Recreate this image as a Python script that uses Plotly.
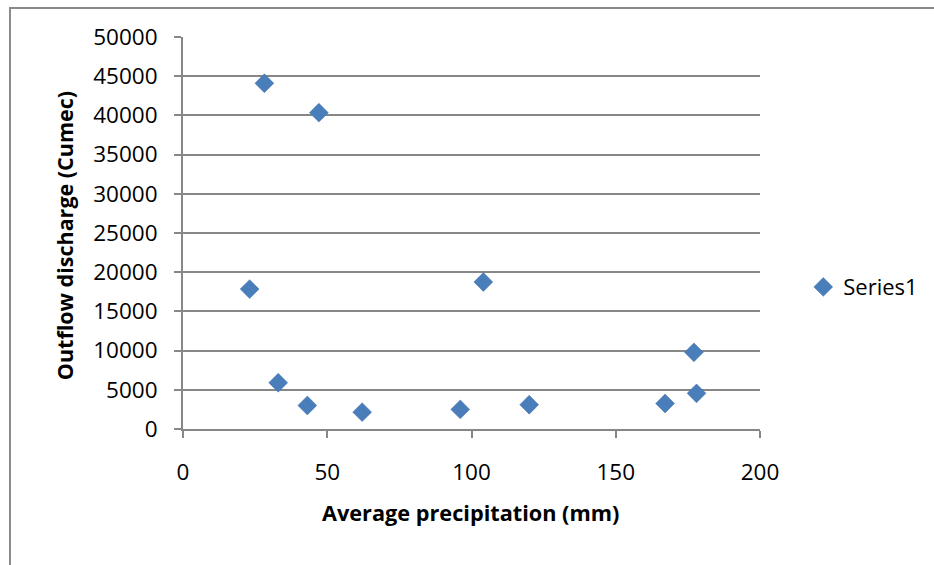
import plotly.graph_objects as go

precip_mm = [28.2, 47.1, 23.1, 33.0, 43.1, 62.1, 96.1, 104.1, 120.0, 167.1, 177.1, 178.0]
outflow_cumec = [44100, 40350, 17850, 5900, 3000, 2150, 2500, 18750, 3100, 3250, 9780, 4550]
series_name = "Series1"
x_ticks = [0, 50, 100, 150, 200]
y_ticks = [0, 5000, 10000, 15000, 20000, 25000, 30000, 35000, 40000, 45000, 50000]
x_title = "Average precipitation (mm)"
y_title = "Outflow discharge (Cumec)"

GRID = "#878787"
FONT = "Open Sans, Liberation Sans, sans-serif"

fig = go.Figure()
fig.add_trace(go.Scatter(
    x=precip_mm, y=outflow_cumec, mode="markers", name=series_name,
    marker=dict(symbol="diamond", size=14.5, color="#4A7EBB",
                line=dict(width=0.5, color="#3F71AA")),
    showlegend=True,
))

fig.update_layout(
    width=934, height=565,
    margin=dict(l=183, r=174, t=37, b=136, autoexpand=False),
    paper_bgcolor="white", plot_bgcolor="white",
    font=dict(family=FONT, size=22, color="black"),
    showlegend=True,
    legend=dict(x=1.075, y=0.362, xanchor="left", yanchor="middle",
                font=dict(family=FONT, size=22, color="black"),
                bgcolor="rgba(0,0,0,0)", itemwidth=30),
    xaxis=dict(
        range=[0, 200], tickvals=x_ticks, ticktext=[str(v) for v in x_ticks],
        showgrid=False, zeroline=False,
        showline=True, linecolor=GRID, linewidth=2,
        ticks="outside", ticklen=7, tickwidth=2, tickcolor=GRID,
        ticklabelstandoff=15,
        tickfont=dict(family=FONT, size=22.5),
        fixedrange=True, automargin=False,
    ),
    yaxis=dict(
        range=[0, 50000], tickvals=y_ticks, ticktext=[str(v) for v in y_ticks],
        showgrid=True, gridcolor=GRID, gridwidth=2,
        zeroline=False,
        showline=True, linecolor=GRID, linewidth=2,
        ticks="outside", ticklen=7, tickwidth=2, tickcolor=GRID,
        ticklabelstandoff=12,
        tickfont=dict(family=FONT, size=22.5),
        fixedrange=True, automargin=False,
    ),
    annotations=[
        dict(text="<b>" + x_title + "</b>", xref="paper", yref="paper",
             x=0.498, y=-0.214, xanchor="center", yanchor="middle",
             showarrow=False, font=dict(family=FONT, size=21.7, color="black")),
        dict(text="<b>" + y_title + "</b>", xref="paper", yref="paper",
             x=-0.2062, y=0.492, xanchor="center", yanchor="middle",
             textangle=-90, showarrow=False,
             font=dict(family=FONT, size=21.5, color="black")),
    ],
)

# outer chart-area border (left and top edges visible, others cropped)
fig.add_shape(type="rect", xref="paper", yref="paper",
              x0=(10 - 183) / 577, x1=(940 - 183) / 577,
              y0=(429 - 570) / 392, y1=(429 - 8) / 392,
              line=dict(color="#8A8A8A", width=2), fillcolor="rgba(0,0,0,0)",
              layer="below")

fig.write_html("out.html")
